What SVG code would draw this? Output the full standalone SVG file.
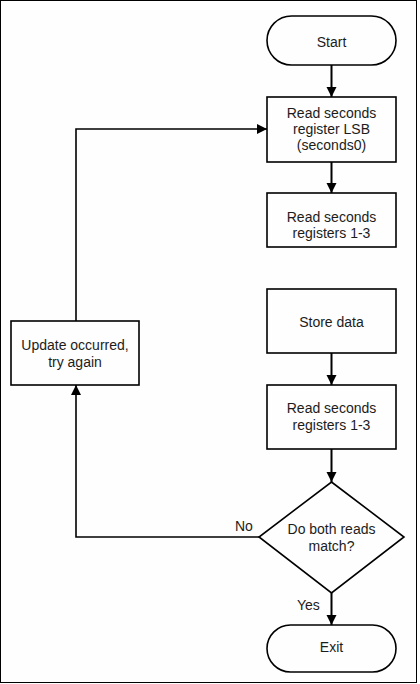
<svg xmlns="http://www.w3.org/2000/svg" width="420" height="684" viewBox="0 0 420 684">
<defs>
<style>
.n{fill:#fdfefd;stroke:#000;stroke-width:1.6}
.t{font-family:"Liberation Sans",Arial,sans-serif;font-size:14px;fill:#1c1c1c;text-anchor:middle}
.l{font-family:"Liberation Sans",Arial,sans-serif;font-size:14px;fill:#1c1c1c}
.c{fill:none;stroke:#000;stroke-width:2}
.c1{fill:none;stroke:#000;stroke-width:1.6}
</style>
<marker id="ah" markerUnits="userSpaceOnUse" markerWidth="12" markerHeight="12" viewBox="0 0 12 12" refX="11" refY="6" orient="auto">
<path d="M1,1 L11,6 L1,11 Z" fill="#000"/>
</marker>
</defs>
<rect x="0" y="0" width="420" height="684" fill="#fff"/>
<rect x="0.5" y="0.5" width="416" height="682" fill="#fdfefd" stroke="#000" stroke-width="1"/>
<g id="connectors">
<path class="c" d="M331.5,65 V97" marker-end="url(#ah)"/>
<path class="c" d="M331.5,162 V193" marker-end="url(#ah)"/>
<path class="c" d="M331.5,353 V385" marker-end="url(#ah)"/>
<path class="c" d="M331.5,449 V482" marker-end="url(#ah)"/>
<path class="c" d="M331.5,593 V625" marker-end="url(#ah)"/>
<path class="c1" d="M259,537 H76 V385" marker-end="url(#ah)"/>
<path class="c1" d="M76,321 V129 H267" marker-end="url(#ah)"/>
<text class="l" x="235" y="531">No</text>
<text class="l" x="297" y="610">Yes</text>
</g>
<g id="start">
<rect class="n" x="267" y="16" width="129" height="49" rx="24.5" ry="24.5"/>
<text class="t" x="331.5" y="46.5">Start</text>
</g>
<g id="read-lsb">
<rect class="n" x="267" y="97" width="129" height="65"/>
<text class="t" x="331.5" y="117.5">Read seconds</text>
<text class="t" x="331.5" y="133.5">register LSB</text>
<text class="t" x="331.5" y="149.5">(seconds0)</text>
</g>
<g id="read-1-3-a">
<rect class="n" x="267" y="193" width="129" height="54"/>
<text class="t" x="331.5" y="221.5">Read seconds</text>
<text class="t" x="331.5" y="237.5">registers 1-3</text>
</g>
<g id="store">
<rect class="n" x="267" y="289" width="129" height="64"/>
<text class="t" x="331.5" y="326.5">Store data</text>
</g>
<g id="read-1-3-b">
<rect class="n" x="267" y="385" width="129" height="64"/>
<text class="t" x="331.5" y="413">Read seconds</text>
<text class="t" x="331.5" y="429.5">registers 1-3</text>
</g>
<g id="decision">
<path class="n" d="M331.5,482 L404,537 L331.5,593 L259,537 Z"/>
<text class="t" x="331.5" y="534">Do both reads</text>
<text class="t" x="331.5" y="551">match?</text>
</g>
<g id="exit">
<rect class="n" x="267" y="625" width="129" height="47" rx="23.5" ry="23.5"/>
<text class="t" x="331.5" y="652">Exit</text>
</g>
<g id="update">
<rect class="n" x="11" y="321" width="128" height="64"/>
<text class="t" x="75" y="350">Update occurred,</text>
<text class="t" x="75" y="366.5">try again</text>
</g>
</svg>
